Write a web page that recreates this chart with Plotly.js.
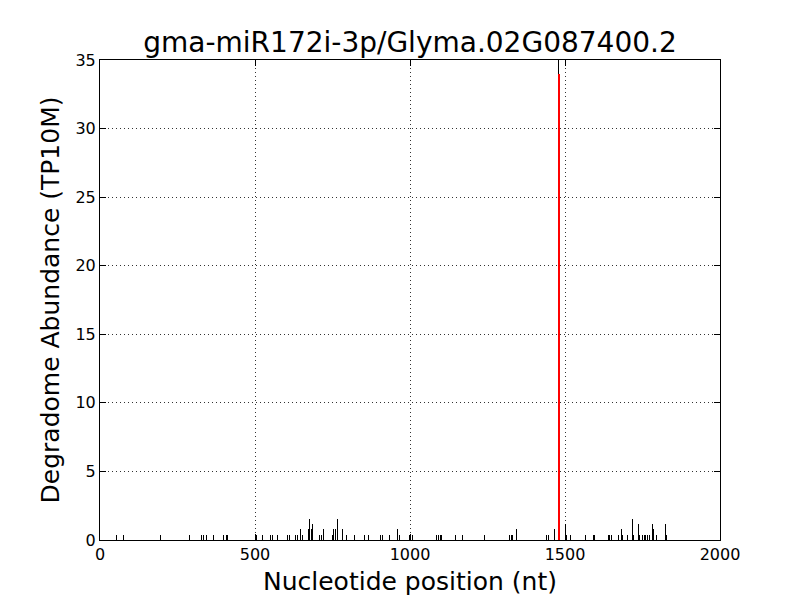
<!DOCTYPE html>
<html><head><meta charset="utf-8">
<script src="https://cdn.plot.ly/plotly-3.0.1.min.js"></script>
<style>body{margin:0;background:#fff}#plot{width:800px;height:600px}</style>
</head><body><div id="plot"></div>
<script>
const positions = [52, 77, 194, 288, 328, 333, 344, 358, 366, 398, 409, 412, 500, 504, 516, 523, 551, 557, 574, 587, 600, 605, 610, 632, 638, 642, 647, 653, 672, 675, 681, 684, 707, 714, 720, 750, 753, 759, 766, 771, 781, 787, 794, 820, 853, 858, 866, 871, 905, 912, 933, 960, 965, 997, 1002, 1007, 1086, 1091, 1097, 1102, 1148, 1169, 1239, 1320, 1326, 1331, 1344, 1441, 1447, 1466, 1480, 1503, 1506, 1518, 1565, 1591, 1595, 1640, 1645, 1651, 1674, 1681, 1685, 1701, 1717, 1720, 1737, 1740, 1750, 1756, 1761, 1767, 1772, 1782, 1786, 1794, 1825, 1828];
const abundance = [0.39, 0.39, 0.39, 0.39, 0.39, 0.39, 0.39, 0.39, 0.39, 0.39, 0.39, 0.39, 0.39, 0.39, 0.39, 0.39, 0.39, 0.39, 0.39, 0.78, 0.39, 0.39, 0.39, 0.39, 0.39, 0.78, 0.78, 0.39, 0.78, 1.56, 0.78, 1.17, 0.39, 0.39, 0.78, 0.39, 0.78, 0.78, 1.56, 0.39, 0.78, 0.39, 0.39, 0.39, 0.39, 0.39, 0.39, 0.39, 0.39, 0.39, 0.39, 0.78, 0.39, 0.39, 0.39, 0.39, 0.39, 0.39, 0.39, 0.39, 0.39, 0.39, 0.39, 0.39, 0.39, 0.39, 0.78, 0.39, 0.39, 0.78, 36, 1.17, 0.39, 0.39, 0.39, 0.39, 0.39, 0.39, 0.39, 0.39, 0.39, 0.78, 0.39, 0.39, 1.56, 0.39, 1.17, 0.39, 0.39, 0.39, 0.39, 0.39, 0.39, 1.17, 0.78, 0.39, 1.17, 0.39];
const targetPos = [1480];
const targetAbundance = [34];
const xTicks = [0, 500, 1000, 1500, 2000];
const yTicks = [0, 5, 10, 15, 20, 25, 30, 35];

const font = 'DejaVu Sans, sans-serif';
const axisCommon = {
  showline: true, mirror: 'ticks', linecolor: '#000', linewidth: 1,
  ticks: 'inside', ticklen: 6, tickcolor: '#000',
  showgrid: true, gridcolor: '#000', griddash: '1px,3px', gridwidth: 0.8,
  zeroline: false, tickfont: {family: font, size: 16, color: '#000'}
};
const data = [
  {type: 'bar', x: positions, y: abundance, width: 3, marker: {color: '#000', line: {width: 0}}, hoverinfo: 'x+y'},
  {type: 'bar', x: targetPos, y: targetAbundance, width: 7, marker: {color: '#ff0000', line: {width: 0}}}
];
const layout = {
  width: 800, height: 600, showlegend: false, barmode: 'overlay', bargap: 0,
  paper_bgcolor: '#fff', plot_bgcolor: '#fff',
  margin: {l: 100, r: 80, t: 60, b: 60},
  title: {text: 'gma-miR172i-3p/Glyma.02G087400.2', font: {family: font, size: 28, color: '#000'}, x: 0.5125, xanchor: 'center', y: 0.93, yanchor: 'middle'},
  xaxis: Object.assign({}, axisCommon, {range: [0, 2000], tickvals: xTicks, ticktext: xTicks.map(String),
    title: {text: 'Nucleotide position (nt)', font: {family: font, size: 25, color: '#000'}, standoff: 9}}),
  yaxis: Object.assign({}, axisCommon, {range: [0, 35], tickvals: yTicks, ticktext: yTicks.map(String),
    title: {text: 'Degradome Abundance (TP10M)', font: {family: font, size: 25, color: '#000'}, standoff: 8}})
};
Plotly.newPlot('plot', data, layout, {displayModeBar: false, staticPlot: true});
</script></body></html>
